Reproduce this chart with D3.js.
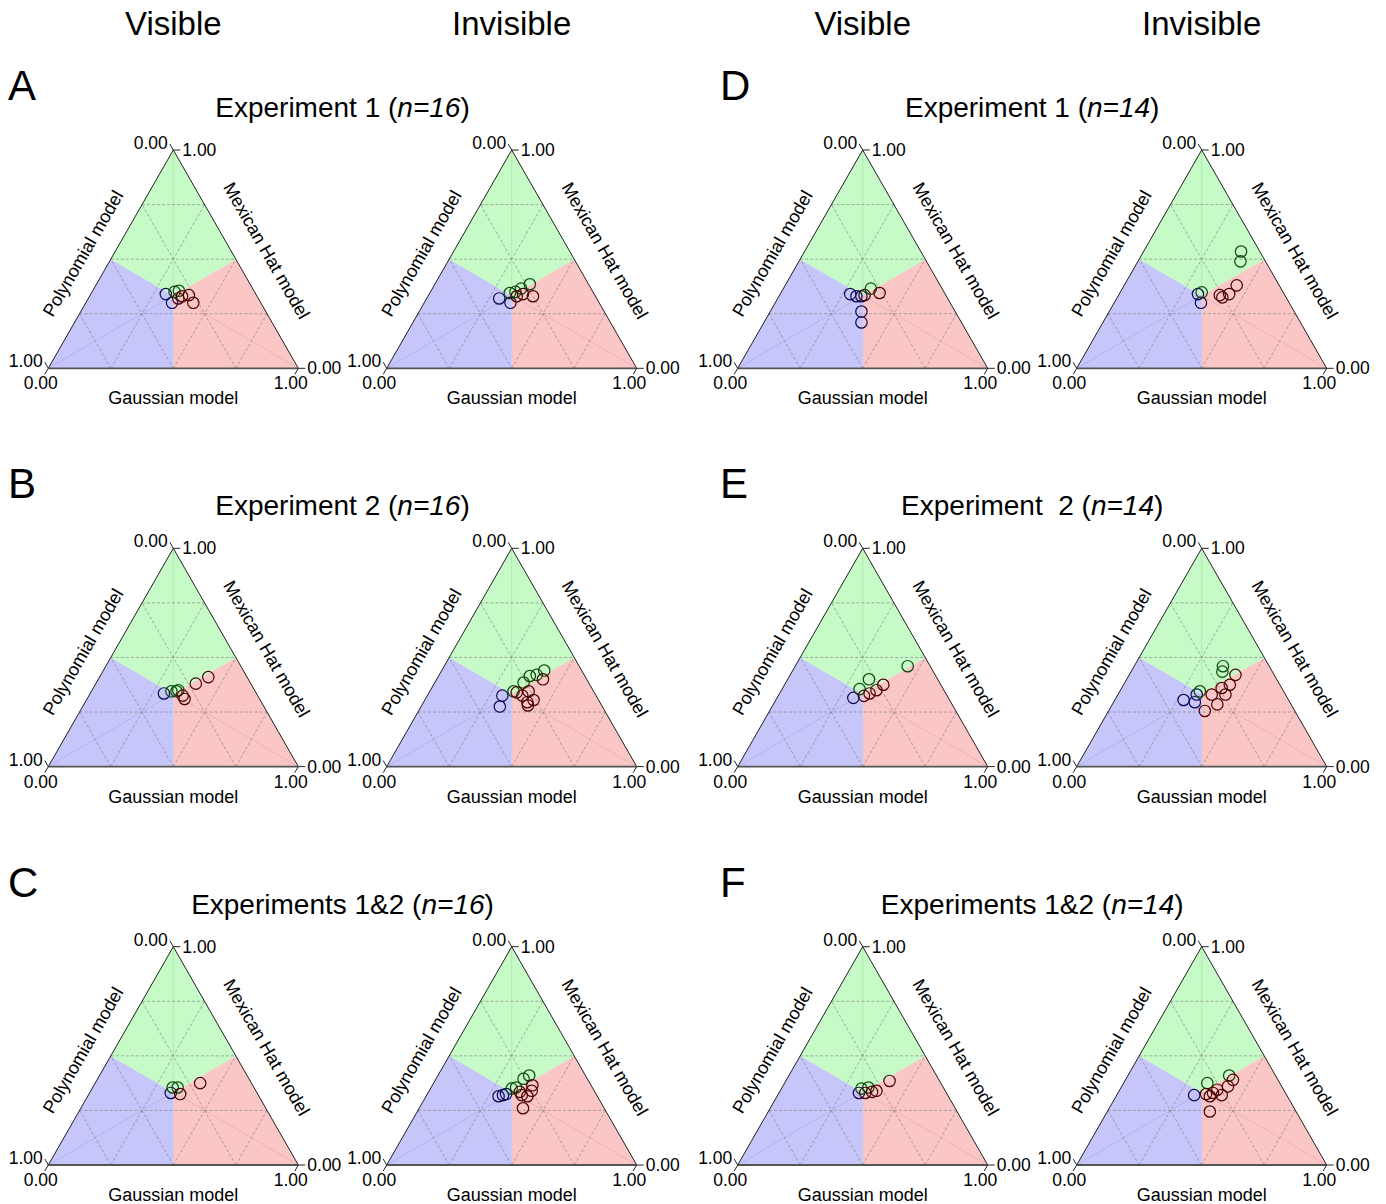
<!DOCTYPE html>
<html>
<head>
<meta charset="utf-8">
<script src="https://cdn.jsdelivr.net/npm/d3@7"></script>
<style>
  body { margin: 0; background: #fff; }
  svg { font-family: "Liberation Sans", Arial, sans-serif; }
</style>
</head>
<body>
<div id="chart"></div>
<script>
const columnHeaders = ["Visible", "Invisible", "Visible", "Invisible"]
const panelLetters = ["A", "B", "C", "D", "E", "F"]
const panelTitles = [
  ["Experiment 1 (", "n=16", ")"],
  ["Experiment 2 (", "n=16", ")"],
  ["Experiments 1&2 (", "n=16", ")"],
  ["Experiment 1 (", "n=14", ")"],
  ["Experiment  2 (", "n=14", ")"],
  ["Experiments 1&2 (", "n=14", ")"]
]
const axisNames = ["Gaussian model", "Polynomial model", "Mexican Hat model"]
const tickLabels = ["0.00", "1.00"]
const gridLevels = [0.25, 0.5, 0.75]

// each point: [Gaussian, Polynomial, Mexican Hat] weights
const aVisible = [[0.30, 0.36, 0.34], [0.345, 0.355, 0.30], [0.33, 0.32, 0.35], [0.345, 0.30, 0.355],
  [0.37, 0.30, 0.33], [0.395, 0.27, 0.335], [0.43, 0.27, 0.30], [0.36, 0.32, 0.32]]
const aInvisible = [[0.29, 0.39, 0.32], [0.345, 0.355, 0.30], [0.32, 0.335, 0.345], [0.34, 0.31, 0.35],
  [0.355, 0.28, 0.365], [0.38, 0.235, 0.385], [0.355, 0.315, 0.33], [0.375, 0.285, 0.34], [0.42, 0.25, 0.33]]
const bVisible = [[0.295, 0.37, 0.335], [0.32, 0.335, 0.345], [0.34, 0.315, 0.345], [0.345, 0.305, 0.35],
  [0.375, 0.30, 0.325], [0.39, 0.30, 0.31], [0.40, 0.22, 0.38], [0.435, 0.155, 0.41]]
const bInvisible = [[0.315, 0.41, 0.275], [0.30, 0.375, 0.325], [0.335, 0.32, 0.345], [0.355, 0.26, 0.385],
  [0.365, 0.22, 0.415], [0.39, 0.19, 0.42], [0.41, 0.15, 0.44], [0.35, 0.31, 0.34], [0.395, 0.26, 0.345],
  [0.435, 0.26, 0.305], [0.415, 0.29, 0.295], [0.425, 0.295, 0.28], [0.425, 0.175, 0.40], [0.38, 0.295, 0.325]]
const cVisible = [[0.325, 0.345, 0.33], [0.32, 0.325, 0.355], [0.34, 0.305, 0.355], [0.365, 0.31, 0.325],
  [0.42, 0.205, 0.375]]
const cInvisible = [[0.29, 0.395, 0.315], [0.305, 0.375, 0.32], [0.315, 0.36, 0.325], [0.325, 0.325, 0.35],
  [0.34, 0.305, 0.355], [0.35, 0.255, 0.395], [0.365, 0.225, 0.41], [0.38, 0.30, 0.32], [0.405, 0.28, 0.315],
  [0.41, 0.25, 0.34], [0.40, 0.235, 0.365], [0.415, 0.325, 0.26], [0.365, 0.30, 0.335]]
const dVisible = [[0.28, 0.38, 0.34], [0.31, 0.36, 0.33], [0.33, 0.34, 0.33], [0.365, 0.375, 0.26],
  [0.39, 0.40, 0.21], [0.34, 0.325, 0.335], [0.35, 0.285, 0.365], [0.395, 0.26, 0.345]]
const dInvisible = [[0.39, 0.075, 0.535], [0.41, 0.10, 0.49], [0.315, 0.345, 0.34], [0.347, 0.353, 0.30],
  [0.326, 0.326, 0.348], [0.405, 0.26, 0.335], [0.42, 0.255, 0.325], [0.44, 0.22, 0.34], [0.45, 0.17, 0.38]]
const eVisible = [[0.305, 0.38, 0.315], [0.31, 0.335, 0.355], [0.325, 0.275, 0.40], [0.343, 0.333, 0.324],
  [0.36, 0.305, 0.335], [0.38, 0.27, 0.35], [0.395, 0.23, 0.375], [0.45, 0.09, 0.46]]
const eInvisible = [[0.275, 0.42, 0.305], [0.325, 0.38, 0.295], [0.315, 0.355, 0.33], [0.32, 0.335, 0.345],
  [0.385, 0.36, 0.255], [0.375, 0.295, 0.33], [0.42, 0.295, 0.285], [0.40, 0.24, 0.36], [0.43, 0.24, 0.33],
  [0.425, 0.20, 0.375], [0.425, 0.155, 0.42], [0.355, 0.185, 0.46], [0.365, 0.20, 0.435]]
const fVisible = [[0.32, 0.35, 0.33], [0.32, 0.33, 0.35], [0.345, 0.30, 0.355], [0.345, 0.325, 0.33],
  [0.37, 0.295, 0.335], [0.385, 0.275, 0.34], [0.415, 0.20, 0.385]]
const fInvisible = [[0.31, 0.37, 0.32], [0.335, 0.29, 0.375], [0.405, 0.185, 0.41], [0.375, 0.31, 0.315],
  [0.38, 0.29, 0.33], [0.39, 0.265, 0.345], [0.42, 0.26, 0.32], [0.425, 0.215, 0.36], [0.43, 0.18, 0.39],
  [0.41, 0.345, 0.245], [0.355, 0.32, 0.325]]

const panelData = [[aVisible, aInvisible], [bVisible, bInvisible], [cVisible, cInvisible],
  [dVisible, dInvisible], [eVisible, eInvisible], [fVisible, fInvisible]]

const w = 1386
const h = 1204
const colX = [173.3, 511.7, 862.7, 1201.7]
const rowTop = [150, 548.3, 946.7]
const half = 125
const triH = 218.3

// region fill, median line, marker stroke (Gaussian, Polynomial, Mexican Hat)
const fills = ["#fac6c6", "#c6c6fa", "#c6fac6"]
const medianColors = ["#f0b4b4", "#b4b4f0", "#b2eab2"]
const strokes = ["#4a0000", "#0a0a55", "#0a4a0a"]

const svg = d3.select("#chart")
  .append("svg")
  .attr("width", w)
  .attr("height", h)

svg.selectAll(".header")
  .data(columnHeaders)
  .enter()
  .append("text")
  .attr("class", "header")
  .attr("x", (d, i) => colX[i])
  .attr("y", 35)
  .attr("text-anchor", "middle")
  .style("font-size", "33px")
  .text(d => d)

const drawPanel = (cx, top, pts) => {
  const g = svg.append("g")
  const x = d3.scaleLinear().domain([-1, 1]).range([cx - half, cx + half])
  const y = d3.scaleLinear().domain([0, 1]).range([top + triH, top])
  const pos = (t) => {
    const s = t[0] + t[1] + t[2]
    return [x((t[0] - t[1]) / s), y(t[2] / s)]
  }
  const BR = pos([1, 0, 0]), BL = pos([0, 1, 0]), TOP = pos([0, 0, 1])
  const mid = pos([1 / 3, 1 / 3, 1 / 3])
  const mBot = pos([0.5, 0.5, 0]), mLeft = pos([0, 0.5, 0.5]), mRight = pos([0.5, 0, 0.5])

  const regions = [[BR, mBot, mid, mRight], [BL, mLeft, mid, mBot], [TOP, mRight, mid, mLeft]]
  g.selectAll(".region")
    .data(regions)
    .enter()
    .append("polygon")
    .attr("points", d => d.map(p => p.join(",")).join(" "))
    .attr("fill", (d, i) => fills[i])
    .attr("stroke", (d, i) => fills[i])
    .attr("stroke-width", 0.5)

  g.selectAll(".median")
    .data([BR, BL, TOP])
    .enter()
    .append("line")
    .attr("x1", d => d[0]).attr("y1", d => d[1])
    .attr("x2", mid[0]).attr("y2", mid[1])
    .attr("stroke", (d, i) => medianColors[i])
    .attr("stroke-width", 1)

  const gridLines = []
  gridLevels.forEach(k => {
    gridLines.push([pos([0, 1 - k, k]), pos([1 - k, 0, k])])
    gridLines.push([pos([k, 1 - k, 0]), pos([k, 0, 1 - k])])
    gridLines.push([pos([1 - k, k, 0]), pos([0, k, 1 - k])])
  })
  g.selectAll(".grid")
    .data(gridLines)
    .enter()
    .append("line")
    .attr("x1", d => d[0][0]).attr("y1", d => d[0][1])
    .attr("x2", d => d[1][0]).attr("y2", d => d[1][1])
    .attr("stroke", "#7a7a7a")
    .attr("stroke-width", 0.6)
    .attr("stroke-dasharray", "3,2")

  // outline
  g.append("path")
    .attr("d", d3.line()([BL, TOP, BR]))
    .attr("fill", "none")
    .attr("stroke", "#222")
    .attr("stroke-width", 1)
  g.append("line")
    .attr("x1", BL[0]).attr("y1", BL[1])
    .attr("x2", BR[0]).attr("y2", BR[1])
    .attr("stroke", "#555")
    .attr("stroke-width", 1.8)

  // ticks at the vertices
  const tl = 7
  const ticks = [
    // Mexican hat axis: horizontal to the right
    { p: TOP, dx: tl, dy: 0, label: tickLabels[1], anchor: "start", ox: 2, oy: 6 },
    { p: BR, dx: tl, dy: 0, label: tickLabels[0], anchor: "start", ox: 2, oy: 6 },
    // Polynomial axis: up-left
    { p: TOP, dx: -tl * 0.5, dy: -tl * 0.866, label: tickLabels[0], anchor: "end", ox: -2, oy: 5 },
    { p: BL, dx: -tl * 0.5, dy: -tl * 0.866, label: tickLabels[1], anchor: "end", ox: -2, oy: 5 },
    // Gaussian axis: down-left
    { p: BL, dx: -tl * 0.5, dy: tl * 0.866, label: tickLabels[0], anchor: "middle", ox: -4, oy: 15 },
    { p: BR, dx: -tl * 0.5, dy: tl * 0.866, label: tickLabels[1], anchor: "middle", ox: -4, oy: 15 }
  ]
  g.selectAll(".tick")
    .data(ticks)
    .enter()
    .append("line")
    .attr("x1", d => d.p[0]).attr("y1", d => d.p[1])
    .attr("x2", d => d.p[0] + d.dx).attr("y2", d => d.p[1] + d.dy)
    .attr("stroke", "#222")
    .attr("stroke-width", 1)
  g.selectAll(".ticklabel")
    .data(ticks)
    .enter()
    .append("text")
    .attr("x", d => d.p[0] + d.dx + d.ox)
    .attr("y", d => d.p[1] + d.dy + d.oy)
    .attr("text-anchor", d => d.anchor)
    .style("font-size", "17.5px")
    .text(d => d.label)

  // axis names
  g.append("text")
    .attr("x", mBot[0])
    .attr("y", mBot[1] + 36)
    .attr("text-anchor", "middle")
    .style("font-size", "18px")
    .text(axisNames[0])
  const lp = [mLeft[0] - 27 * 0.866 - 9 * 0.5, mLeft[1] - 27 * 0.5 + 9 * 0.866]
  g.append("text")
    .attr("transform", "translate(" + lp[0] + "," + lp[1] + ") rotate(-60)")
    .attr("text-anchor", "middle")
    .attr("dy", "0.35em")
    .style("font-size", "18px")
    .text(axisNames[1])
  const rp = [mRight[0] + 31 * 0.866 + 8 * 0.5, mRight[1] - 31 * 0.5 + 8 * 0.866]
  g.append("text")
    .attr("transform", "translate(" + rp[0] + "," + rp[1] + ") rotate(60)")
    .attr("text-anchor", "middle")
    .attr("dy", "0.35em")
    .style("font-size", "18px")
    .text(axisNames[2])

  // subjects
  const best = t => t.indexOf(d3.max(t))
  g.selectAll(".pt")
    .data(pts)
    .enter()
    .append("circle")
    .attr("cx", d => pos(d)[0])
    .attr("cy", d => pos(d)[1])
    .attr("r", 5.7)
    .attr("fill", "none")
    .attr("stroke", d => strokes[best(d)])
    .attr("stroke-width", 1.2)
}

panelData.forEach((pair, i) => {
  const row = i % 3
  const side = Math.floor(i / 3)
  const top = rowTop[row]
  const c0 = colX[side * 2], c1 = colX[side * 2 + 1]

  svg.append("text")
    .attr("x", side === 0 ? 8 : 720)
    .attr("y", top - 50)
    .style("font-size", "42px")
    .text(panelLetters[i])

  const t = svg.append("text")
    .attr("x", (c0 + c1) / 2)
    .attr("y", top - 33)
    .attr("text-anchor", "middle")
    .attr("xml:space", "preserve")
    .style("white-space", "pre")
    .style("font-size", "28px")
  t.append("tspan").text(panelTitles[i][0])
  t.append("tspan").style("font-style", "italic").text(panelTitles[i][1])
  t.append("tspan").text(panelTitles[i][2])

  drawPanel(c0, top, pair[0])
  drawPanel(c1, top, pair[1])
})
</script>
</body>
</html>
